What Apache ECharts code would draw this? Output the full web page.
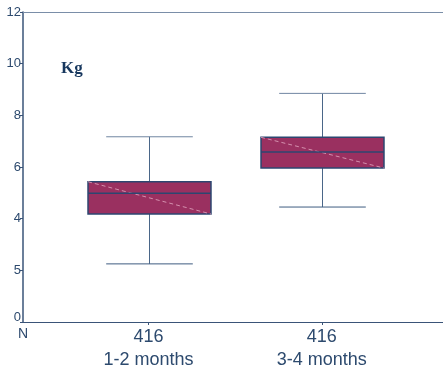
<!DOCTYPE html>
<html>
<head>
<meta charset="utf-8">
<style>
  html, body { margin: 0; padding: 0; background: #fff; }
  #chart { width: 443px; height: 377px; }
</style>
<script src="https://cdn.jsdelivr.net/npm/echarts@6/dist/echarts.min.js"></script>
</head>
<body>
<div id="chart"></div>
<script>
// Weight distribution by age group (kg)
const categories = ['1-2 months', '3-4 months'];
const counts = [416, 416];
const lowWhisker = [2.25, 4.45];
const q1 = [4.18, 5.96];
const median = [4.98, 6.58];
const q3 = [5.43, 7.15];
const highWhisker = [7.17, 8.85];
const yTickLabels = ['0', '5', '4', '6', '8', '10', '12'];

const axisColor = '#3a5478';
const textColor = '#2d4a6e';

const boxData = categories.map((c, i) =>
  [i + 1, lowWhisker[i], q1[i], median[i], q3[i], highWhisker[i]]);

function renderBox(params, api) {
  const x = api.value(0);
  const band = api.size([1, 0])[0];
  const halfBox = band * 0.355;
  const halfCap = band * 0.25;
  const pLow = api.coord([x, api.value(1)]);
  const pQ1 = api.coord([x, api.value(2)]);
  const pMed = api.coord([x, api.value(3)]);
  const pQ3 = api.coord([x, api.value(4)]);
  const pHigh = api.coord([x, api.value(5)]);
  const cx = Math.round(pMed[0]) + 0.5;
  const line = (x1, y1, x2, y2, style) => ({
    type: 'line',
    shape: { x1, y1, x2, y2 },
    style: Object.assign({ stroke: '#4a6688', lineWidth: 1 }, style || {})
  });
  return {
    type: 'group',
    children: [
      line(cx, pHigh[1], cx, pQ3[1]),
      line(cx, pQ1[1], cx, pLow[1]),
      line(cx - halfCap, pHigh[1], cx + halfCap, pHigh[1], { stroke: '#7086a2' }),
      line(cx - halfCap, pLow[1], cx + halfCap, pLow[1], { stroke: '#3f5c80' }),
      {
        type: 'rect',
        shape: { x: cx - halfBox, y: pQ3[1], width: halfBox * 2, height: pQ1[1] - pQ3[1] },
        style: { fill: '#9a3060', stroke: '#2c4670', lineWidth: 1.5 }
      },
      line(cx - halfBox, pQ3[1], cx + halfBox, pQ1[1], { stroke: '#d490ae', lineDash: [4, 3] }),
      line(cx - halfBox, pMed[1], cx + halfBox, pMed[1], { stroke: '#2c4670', lineWidth: 1.5 })
    ]
  };
}

const chart = echarts.init(document.getElementById('chart'));
chart.setOption({
  animation: false,
  grid: { left: 23, right: 0, top: 12, bottom: 55 },
  title: {
    text: 'Kg',
    left: 61,
    top: 60,
    padding: 0,
    textStyle: { fontFamily: 'Liberation Serif', fontWeight: 'bold', fontSize: 17, color: '#17375e' }
  },
  graphic: [{
    type: 'text',
    left: 18,
    top: 327,
    style: { text: 'N', fontFamily: 'Liberation Sans', fontSize: 14, fill: textColor }
  }],
  xAxis: [{
    type: 'value',
    min: 0.275,
    max: 2.7,
    splitLine: { show: false },
    axisLine: { show: true, lineStyle: { color: axisColor, width: 1 } },
    axisTick: { show: true, length: 3, customValues: [1, 2], lineStyle: { color: axisColor } },
    axisLabel: {
      customValues: [1, 2],
      margin: 4,
      fontFamily: 'Liberation Sans',
      fontSize: 18,
      lineHeight: 23,
      color: textColor,
      formatter: v => counts[v - 1] + '\n' + categories[v - 1]
    }
  }, {
    type: 'value',
    position: 'top',
    min: 0.275,
    max: 2.7,
    splitLine: { show: false },
    axisLine: { show: true, lineStyle: { color: '#7a8ea8', width: 1 } },
    axisTick: { show: false },
    axisLabel: { show: false }
  }],
  yAxis: {
    type: 'value',
    min: 0,
    max: 12,
    interval: 2,
    splitLine: { show: false },
    axisLine: { show: true, lineStyle: { color: axisColor, width: 1.5 } },
    axisTick: { show: true, length: 3, lineStyle: { color: axisColor } },
    axisLabel: {
      margin: 2,
      fontFamily: 'Liberation Sans',
      fontSize: 13,
      color: textColor,
      formatter: (v, i) => i === 0 ? '{base|' + yTickLabels[i] + '}' : yTickLabels[i],
      rich: {
        base: { fontFamily: 'Liberation Sans', fontSize: 13, color: textColor, padding: [0, 0, 9, 0] }
      }
    }
  },
  series: [{
    type: 'custom',
    xAxisIndex: 0,
    renderItem: renderBox,
    data: boxData,
    encode: { x: 0, y: [1, 2, 3, 4, 5] }
  }]
});
</script>
</body>
</html>
